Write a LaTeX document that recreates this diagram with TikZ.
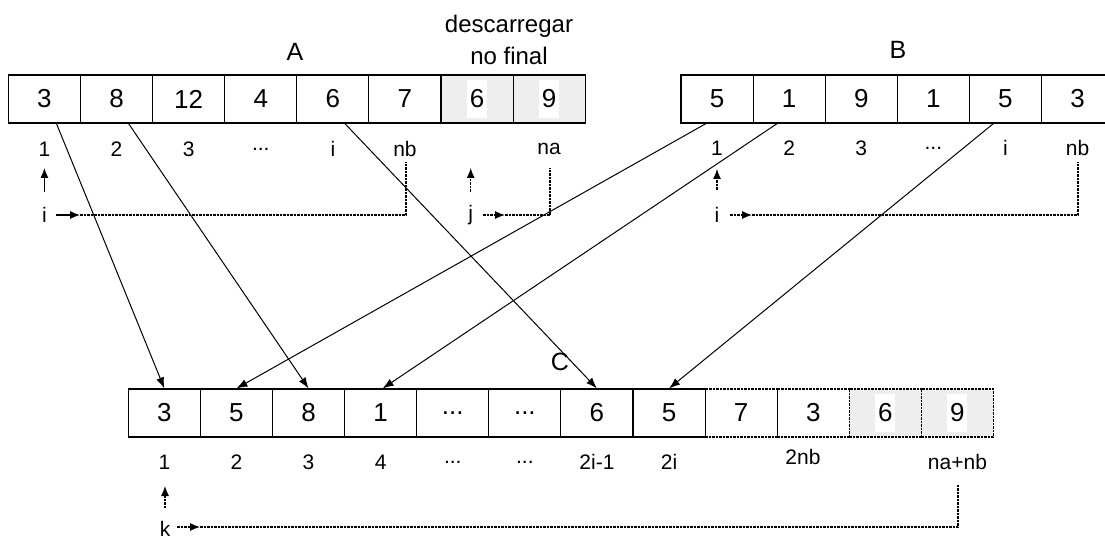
\documentclass[tikz,border=0pt]{standalone}
\usepackage{fontspec}
\setmainfont{Liberation Sans}
\usetikzlibrary{arrows.meta,calc}
\definecolor{cellgray}{RGB}{238,238,238}
\newcommand{\tdots}{...}
\tikzset{
  cell/.style={draw, line width=1.1pt, minimum width=72.1pt, minimum height=48pt,
    inner sep=0pt, font=\fontsize{26}{30}\selectfont},
  dcell/.style={cell, line width=1.1pt, dash pattern=on 2.5pt off 1pt},
  graycell/.style={fill=cellgray},
  digitbg/.style={fill=white, minimum width=20pt, minimum height=38pt, inner sep=0pt,
    font=\fontsize{26}{30}\selectfont},
  idx/.style={font=\fontsize{21}{25}\selectfont, inner sep=0pt},
  title/.style={font=\fontsize{25}{29}\selectfont, inner sep=0pt},
  note/.style={font=\fontsize{24}{28}\selectfont, inner sep=0pt, anchor=base},
  move/.style={line width=1pt, -{Latex[length=11pt,width=8pt]}},
  ptr/.style={line width=1.1pt, dash pattern=on 2.5pt off 1pt},
  ptrarrow/.style={ptr, -{Latex[length=10pt,width=8pt]}},
  solidarrow/.style={line width=1.1pt, -{Latex[length=10pt,width=8pt]}},
}
\begin{document}
\begin{tikzpicture}[x=1pt,y=-1pt]
\useasboundingbox (0,0) rectangle (1105,540);
\clip (0,0) rectangle (1105,540);

% ---------- array A ----------
\foreach \v [count=\k] in {3,8,12,4,6,7}
  \node[cell] (A\k) at ({8.4+72.1*(\k-0.5)},99) {\v};
\node[cell,graycell] (A7) at ({8.4+72.1*6.5},99) {};
\node[digitbg] (A7v) at (A7) {6};
\node[cell,graycell] (A8) at ({8.4+72.1*7.5},99) {};
\node[digitbg] (A8v) at (A8) {9};

\node[title] (Atitle) at (295,52) {A};
\node[note] (note1) at (509,33) {descarregar};
\node[note] (note2) at (509,65) {no final};

\node[idx] (a1) at ($(A1)+(0,50)$) {1};
\node[idx] (a2) at ($(A2)+(0,50)$) {2};
\node[idx] (a3) at ($(A3)+(0,50)$) {3};
\node[idx] (a4) at ($(A4)+(0,50)$) {\tdots};
\node[idx] (a5) at ($(A5)+(0,50)$) {i};
\node[idx] (a6) at ($(A6)+(0,50)$) {nb};
\node[idx] (a8) at ($(A8)+(0,50)$) {na};

% index i over A
\node[idx] (iA) at (44.4,215) {i};
\coordinate (iAup0) at (44.4,192);
\coordinate (iAup1) at (44.4,168);
\draw[solidarrow] (iAup0) -- (iAup1);
\coordinate (iAh0) at (56,215);
\coordinate (iAh1) at (80,215);
\coordinate (iAend) at (406,162);
\draw[solidarrow] (iAh0) -- (iAh1);
\draw[ptr] (iAh1) -| (iAend);

% index j over the tail of A
\node[idx] (jA) at (470.7,215) {j};
\coordinate (jAup0) at (470.7,192);
\coordinate (jAup1) at (470.7,168);
\draw[ptrarrow] (jAup0) -- (jAup1);
\coordinate (jAh0) at (483,215);
\coordinate (jAh1) at (505,215);
\coordinate (jAend) at (550,168);
\draw[ptrarrow] (jAh0) -- (jAh1);
\draw[ptr] (jAh1) -| (jAend);

% ---------- array B ----------
\foreach \v [count=\k] in {5,1,9,1,5,3}
  \node[cell] (B\k) at ({681+72.1*(\k-0.5)},99) {\v};
\node[title] (Btitle) at (898,50) {B};

\node[idx] (b1) at ($(B1)+(0,49)$) {1};
\node[idx] (b2) at ($(B2)+(0,49)$) {2};
\node[idx] (b3) at ($(B3)+(0,49)$) {3};
\node[idx] (b4) at ($(B4)+(0,49)$) {\tdots};
\node[idx] (b5) at ($(B5)+(0,49)$) {i};
\node[idx] (b6) at ($(B6)+(0,49)$) {nb};

\node[idx] (iB) at (717,215) {i};
\coordinate (iBup0) at (717,190);
\coordinate (iBup1) at (717,169);
\draw[ptrarrow] (iBup0) -- (iBup1);
\coordinate (iBh0) at (730,215);
\coordinate (iBh1) at (752,215);
\coordinate (iBend) at (1078,162);
\draw[ptrarrow] (iBh0) -- (iBh1);
\draw[ptr] (iBh1) -| (iBend);

% ---------- array C ----------
\foreach \v [count=\k] in {3,5,8,1,\tdots,\tdots,6,5}
  \node[cell] (C\k) at ({128.3+72.1*(\k-0.5)},413) {\v};
\node[dcell] (C9) at ({128.3+72.1*8.5},413) {7};
\node[dcell] (C10) at ({128.3+72.1*9.5},413) {3};
\node[dcell,graycell] (C11) at ({128.3+72.1*10.5},413) {};
\node[digitbg] (C11v) at (C11) {6};
\node[dcell,graycell] (C12) at ({128.3+72.1*11.5},413) {};
\node[digitbg] (C12v) at (C12) {9};
\node[title] (Ctitle) at (560,362) {C};

\node[idx] (c1) at ($(C1)+(0,49)$) {1};
\node[idx] (c2) at ($(C2)+(0,49)$) {2};
\node[idx] (c3) at ($(C3)+(0,49)$) {3};
\node[idx] (c4) at ($(C4)+(0,49)$) {4};
\node[idx] (c5) at ($(C5)+(0,49)$) {\tdots};
\node[idx] (c6) at ($(C6)+(0,49)$) {\tdots};
\node[idx] (c7) at ($(C7)+(0,49)$) {2i-1};
\node[idx] (c8) at ($(C8)+(0,49)$) {2i};
\node[idx] (c10) at (803,457) {2nb};
\node[idx] (c12) at ($(C12)+(0,49)$) {na+nb};

\node[idx] (kC) at (165,529) {k};
\coordinate (kCup0) at (165,508);
\coordinate (kCup1) at (165,486);
\draw[ptrarrow] (kCup0) -- (kCup1);
\coordinate (kCh0) at (177,527);
\coordinate (kCh1) at (200,527);
\coordinate (kCend) at (958,485);
\draw[ptrarrow] (kCh0) -- (kCh1);
\draw[ptr] (kCh1) -| (kCend);

% ---------- merge moves ----------
\draw[move] ($(A1.south)+(12,0)$) -- (C1.north);
\draw[move] ($(A2.south)+(12,0)$) -- (C3.north);
\draw[move] ($(A5.south)+(12,0)$) -- (C7.north);
\draw[move] ($(B1.south)+(-11,0)$) -- (C2.north);
\draw[move] ($(B2.south)+(-12,0)$) -- ($(C4.north)+(2,0)$);
\draw[move] ($(B5.south)+(-12,0)$) -- (C8.north);
\end{tikzpicture}
\end{document}
